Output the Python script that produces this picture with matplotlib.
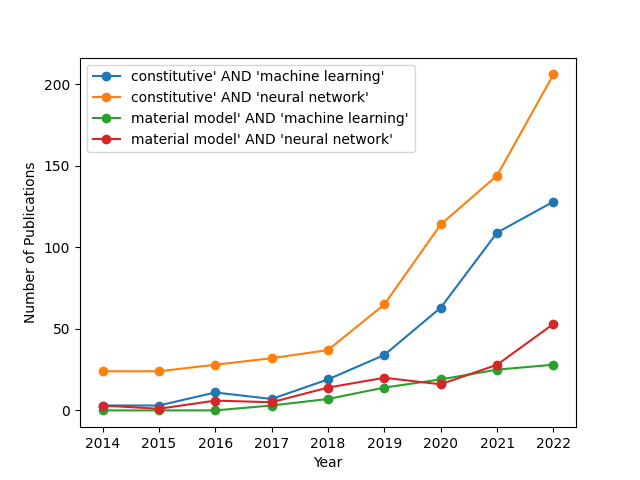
import matplotlib
matplotlib.use('Agg')
import matplotlib.pyplot as plt

years = [2014, 2015, 2016, 2017, 2018, 2019, 2020, 2021, 2022]

constitutive_ml = [3, 3, 11, 7, 19, 34, 63, 109, 128]
constitutive_nn = [24, 24, 28, 32, 37, 65, 114, 144, 206]
material_ml = [0, 0, 0, 3, 7, 14, 19, 25, 28]
material_nn = [3, 1, 6, 5, 14, 20, 16, 28, 53]

series = [
    ("constitutive' AND 'machine learning'", constitutive_ml),
    ("constitutive' AND 'neural network'", constitutive_nn),
    ("material model' AND 'machine learning'", material_ml),
    ("material model' AND 'neural network'", material_nn),
]

if __name__ == '__main__':
    fig, ax = plt.subplots(figsize=(6.4, 4.8), dpi=100)

    for label, values in series:
        ax.plot(years, values, marker='o', label=label)

    ax.set_xlabel('Year')
    ax.set_ylabel('Number of Publications')
    ax.set_xticks(years)
    ax.legend(loc='upper left')
    fig.savefig('out.png')
